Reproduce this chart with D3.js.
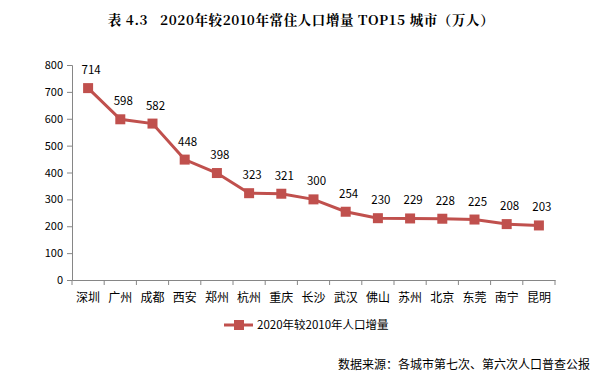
<!DOCTYPE html>
<html><head><meta charset="utf-8">
<script src="https://cdn.jsdelivr.net/npm/d3@7"></script>
<style>body{margin:0;background:#fff}svg{display:block}</style>
</head><body><svg id="c" width="605" height="376"></svg>
<script>
const cities = ["深圳","广州","成都","西安","郑州","杭州","重庆","长沙","武汉","佛山","苏州","北京","东莞","南宁","昆明"];
const increase = [714,598,582,448,398,323,321,300,254,230,229,228,225,208,203];
const yTicks = [0,100,200,300,400,500,600,700,800];
const seriesName = "2020年较2010年人口增量";
const titleText = "表 4.3   2020年较2010年常住人口增量 TOP15 城市（万人）";
const sourceText = "数据来源：各城市第七次、第六次人口普查公报";

const svg = d3.select("#c");
const font = "'Noto Sans CJK SC','Noto Sans',sans-serif";
const color = "#C0504D";
const x = d3.scaleBand().domain(cities).range([72, 555]);
const y = d3.scaleLinear().domain([0, 800]).range([280, 65]);

svg.append("text").attr("x", 301).attr("y", 25).attr("text-anchor", "middle")
  .style("white-space", "pre").attr("letter-spacing", 0.6)
  .attr("font-family", "'Noto Serif CJK SC','DejaVu Serif',serif").attr("font-weight", "bold")
  .attr("font-size", 13.5).attr("fill", "#000").text(titleText);

const ya = svg.append("g").attr("transform", "translate(72,0)")
  .call(d3.axisLeft(y).tickValues(yTicks).tickSize(5).tickPadding(4));
ya.select(".domain").attr("stroke", "#868686");
ya.selectAll(".tick line").attr("stroke", "#868686");
ya.selectAll("text").attr("font-family", font).attr("font-size", 11).attr("fill", "#000");

const xa = svg.append("g").attr("transform", "translate(0,280)")
  .call(d3.axisBottom(x).tickSize(0).tickPadding(13));
xa.select(".domain").attr("stroke", "#868686");
xa.selectAll("text").attr("font-family", font).attr("font-size", 12).attr("fill", "#000");
const bounds = cities.map(c => x(c)).concat([x.range()[1]]);
svg.append("g").selectAll("line").data(bounds).join("line")
  .attr("x1", d => d).attr("x2", d => d).attr("y1", 280).attr("y2", 285).attr("stroke", "#868686");

const cx = c => x(c) + x.bandwidth() / 2;
svg.append("path").datum(increase)
  .attr("d", d3.line().x((d, i) => cx(cities[i])).y(d => y(d)))
  .attr("fill", "none").attr("stroke", color).attr("stroke-width", 3);
svg.append("g").selectAll("rect").data(increase).join("rect")
  .attr("x", (d, i) => cx(cities[i]) - 5).attr("y", d => y(d) - 5)
  .attr("width", 10).attr("height", 10).attr("fill", color);
svg.append("g").selectAll("text").data(increase).join("text")
  .attr("x", (d, i) => cx(cities[i]) + 3).attr("y", d => y(d) - 14)
  .attr("text-anchor", "middle").attr("font-family", font).attr("font-size", 11.5)
  .attr("fill", "#000").text(d => d);

svg.append("line").attr("x1", 224).attr("x2", 253).attr("y1", 325).attr("y2", 325)
  .attr("stroke", color).attr("stroke-width", 3);
svg.append("rect").attr("x", 234).attr("y", 320).attr("width", 10).attr("height", 10).attr("fill", color);
svg.append("text").attr("x", 257).attr("y", 329).attr("font-family", font).attr("font-size", 11.5)
  .attr("fill", "#000").text(seriesName);

svg.append("text").attr("x", 590).attr("y", 369).attr("text-anchor", "end")
  .attr("font-family", font).attr("font-size", 12).attr("fill", "#000").text(sourceText);
</script></body></html>
